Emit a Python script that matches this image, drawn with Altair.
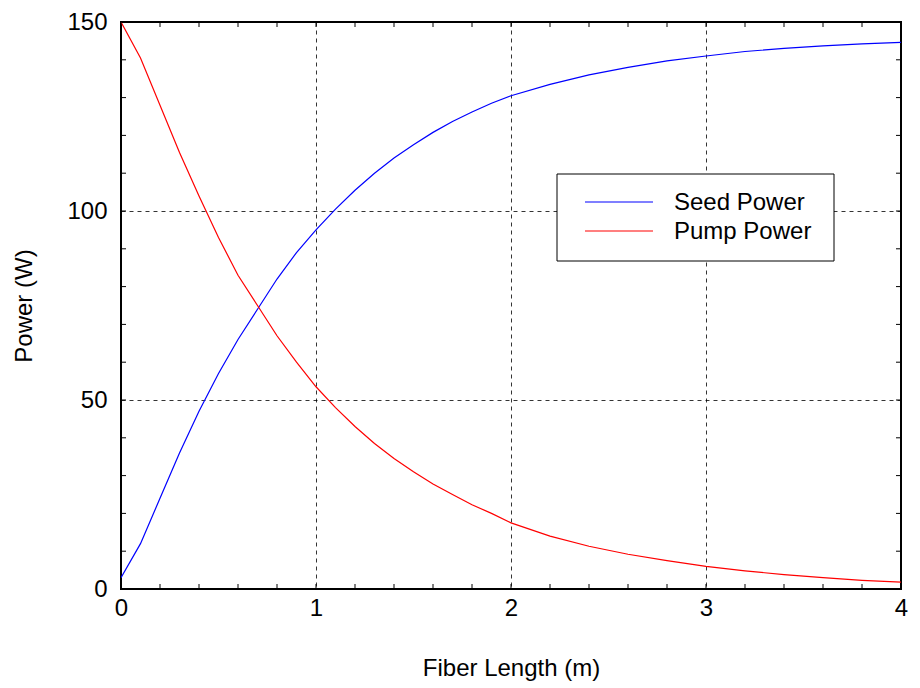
import altair as alt
import pandas as pd

x_vals = [0.0, 0.1, 0.2, 0.3, 0.4, 0.5, 0.6, 0.7, 0.8, 0.9, 1.0,
          1.1, 1.2, 1.3, 1.4, 1.5, 1.6, 1.7, 1.8, 1.9, 2.0,
          2.2, 2.4, 2.6, 2.8, 3.0, 3.2, 3.4, 3.6, 3.8, 4.0]
seed_power = [3.0, 12.0, 24.0, 36.0, 47.0, 57.0, 66.0, 74.0, 82.0, 89.0, 95.0,
              100.5, 105.5, 110.0, 114.0, 117.5, 120.8, 123.7, 126.2, 128.5, 130.5,
              133.5, 136.0, 138.0, 139.7, 141.0, 142.2, 143.0, 143.7, 144.2, 144.6]
pump_power = [150.0, 140.5, 128.0, 115.5, 104.0, 93.0, 83.0, 75.0, 67.0, 60.0, 53.5,
              48.0, 43.0, 38.5, 34.5, 31.0, 27.8, 25.0, 22.3, 20.0, 17.5,
              14.0, 11.3, 9.2, 7.5, 6.0, 4.8, 3.8, 3.0, 2.3, 1.8]
series_names = ["Seed Power", "Pump Power"]
series_colors = ["#0000ff", "#ff0000"]
x_major = [0, 1, 2, 3, 4]
y_major = [0, 50, 100, 150]
x_minor = [round(i * 0.2, 1) for i in range(21)]
y_minor = list(range(0, 151, 10))

TOP, LEFT = 14, 113
W, H = 780, 567

rows = []
for xv, s, p in zip(x_vals, seed_power, pump_power):
    rows.append({"x": xv, "y": s, "series": series_names[0]})
    rows.append({"x": xv, "y": p, "series": series_names[1]})
df = pd.DataFrame(rows)

xscale = alt.Scale(domain=[0, 4], nice=False, zero=False)
yscale = alt.Scale(domain=[0, 150], nice=False, zero=False)

font = "Liberation Sans"
FS = 24

lines = alt.Chart(df).mark_line(strokeWidth=1.2, clip=True).encode(
    x=alt.X("x:Q", scale=xscale, title="Fiber Length (m)",
            axis=alt.Axis(values=x_major, format="d", ticks=False, domain=False,
                          labelPadding=7, labelFlush=False,
                          grid=True, gridColor="black", gridDash=[4, 4], gridWidth=0.8,
                          labelFontSize=FS, labelFont=font, labelColor="black",
                          titleFontSize=FS, titleFont=font, titleFontWeight="normal",
                          titleColor="black", titlePadding=36)),
    y=alt.Y("y:Q", scale=yscale, title="Power (W)",
            axis=alt.Axis(values=y_major, format="d", ticks=False, domain=False,
                          labelPadding=14, labelFlush=False,
                          grid=True, gridColor="black", gridDash=[4, 4], gridWidth=0.8,
                          labelFontSize=FS, labelFont=font, labelColor="black",
                          titleFontSize=FS, titleFont=font, titleFontWeight="normal",
                          titleColor="black", titlePadding=30)),
    color=alt.Color("series:N", sort=series_names,
                    scale=alt.Scale(domain=series_names, range=series_colors),
                    legend=None),
)

xt = pd.DataFrame({"v": x_minor})
yt = pd.DataFrame({"v": y_minor})

xb = alt.Chart(xt).mark_rule(color="black", strokeWidth=1).encode(
    x=alt.X("v:Q", scale=xscale), y=alt.value(H), y2=alt.value(H - 5))
xtop = alt.Chart(xt).mark_rule(color="black", strokeWidth=1).encode(
    x=alt.X("v:Q", scale=xscale), y=alt.value(0), y2=alt.value(5))
yl = alt.Chart(yt).mark_rule(color="black", strokeWidth=1).encode(
    y=alt.Y("v:Q", scale=yscale), x=alt.value(0), x2=alt.value(5))
yr = alt.Chart(yt).mark_rule(color="black", strokeWidth=1).encode(
    y=alt.Y("v:Q", scale=yscale), x=alt.value(W), x2=alt.value(W - 5))

# custom legend box
leg_df = pd.DataFrame({"series": series_names})
LX, LY, LW, LH = 436, 152, 277, 87
box = alt.Chart(leg_df.iloc[:1]).mark_rect(fill="white", stroke="black", strokeWidth=1).encode(
    x=alt.value(LX), x2=alt.value(LX + LW), y=alt.value(LY), y2=alt.value(LY + LH))
leg_layers = [box]
for i, (name, col) in enumerate(zip(series_names, series_colors)):
    yy = LY + 28 + 29 * i
    d = pd.DataFrame({"series": [name]})
    leg_layers.append(alt.Chart(d).mark_rule(color=col, strokeWidth=1.2).encode(
        x=alt.value(LX + 28), x2=alt.value(LX + 96), y=alt.value(yy)))
    leg_layers.append(alt.Chart(d).mark_text(align="left", baseline="middle", fontSize=FS,
                                             font=font, color="black").encode(
        x=alt.value(LX + 117), y=alt.value(yy + 1), text="series:N"))

chart = alt.layer(lines, xb, xtop, yl, yr, *leg_layers).properties(
    width=W, height=H,
    autosize=alt.AutoSizeParams(type="none"),
    padding={"left": LEFT, "top": TOP, "right": 11, "bottom": 94},
    background="white",
).configure_view(stroke="black", strokeWidth=2)

chart.save("out.html", embed_options={"renderer": "svg", "actions": False})
